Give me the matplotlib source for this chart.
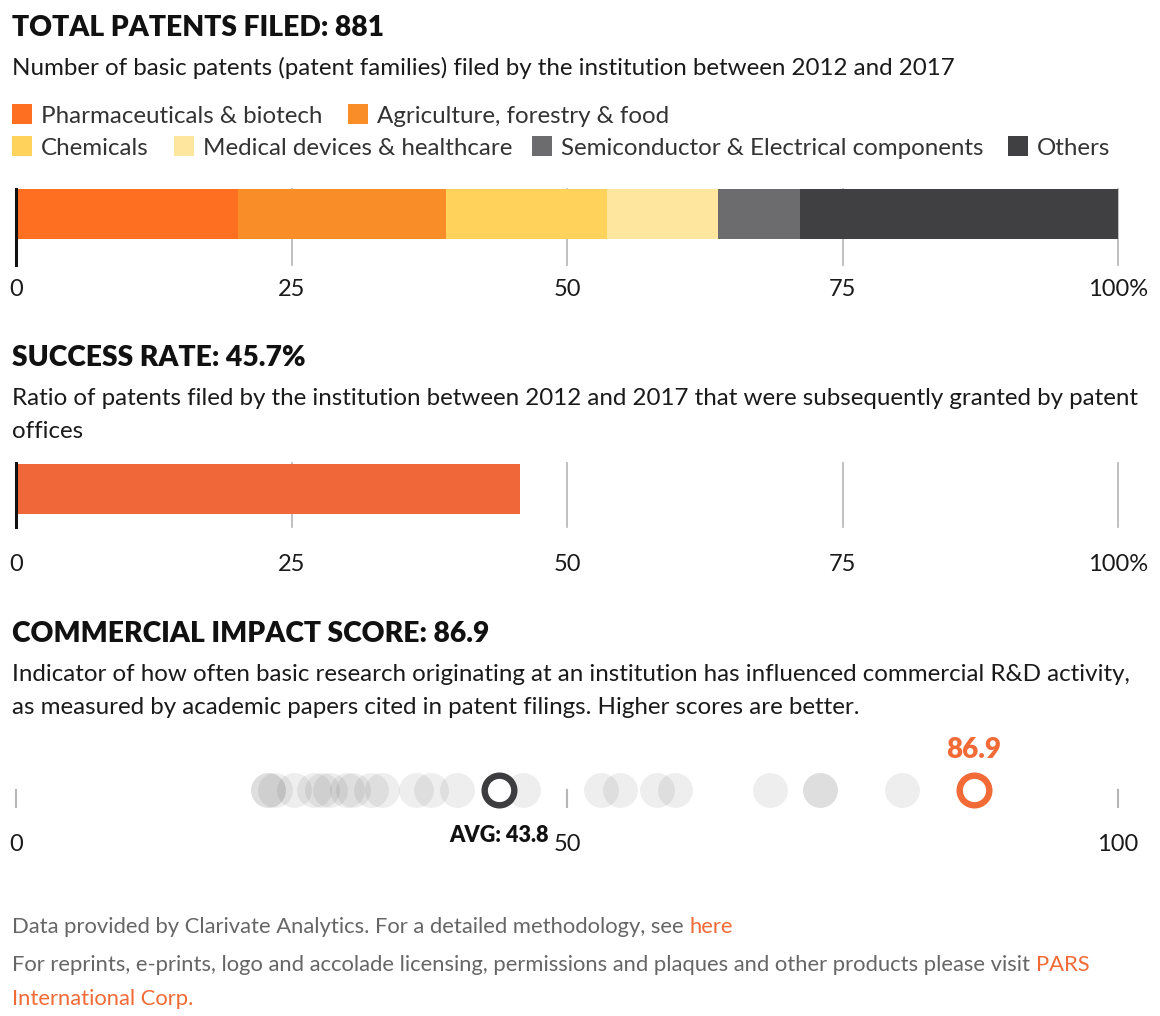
import matplotlib
matplotlib.use("Agg")
import matplotlib.pyplot as plt
from matplotlib.patches import Rectangle

# data
categories = ["Pharmaceuticals & biotech", "Agriculture, forestry & food", "Chemicals",
              "Medical devices & healthcare", "Semiconductor & Electrical components", "Others"]
shares = [20.1, 18.9, 14.6, 10.1, 7.4, 28.9]
cat_colors = ["#fe6f22", "#f98e28", "#ffd25c", "#fee69f", "#6c6c6f", "#404042"]
total_patents = 881
success_rate = 45.7
peer_scores = [22.9, 22.9, 23.5, 25.2, 27.0, 27.8, 28.5, 30.0, 30.6, 32.2, 33.2, 36.3, 37.7,
               40.0, 46.0, 53.1, 54.8, 58.2, 59.8, 68.4, 73.0, 73.0, 80.4]
avg_score = 43.8
inst_score = 86.9
pct_ticks = [0, 25, 50, 75, 100]
pct_labels = ["0", "25", "50", "75", "100%"]
score_ticks = [0, 50, 100]

W, H = 1160, 1016
FONT = "Lato"
ORANGE = "#f26a35"
DARK = "#1a1a1a"
GRID = "#b5b5b5"
BODY = 17.4
FOOT = 15.8

plt.rcParams["font.family"] = [FONT, "DejaVu Sans"]
fig = plt.figure(figsize=(W / 100, H / 100), dpi=100)

# background axes in pixel coords for all text
bg = fig.add_axes([0, 0, 1, 1])
bg.set_xlim(0, W)
bg.set_ylim(H, 0)
bg.axis("off")

X0, X1 = 16, 1118  # pixel span of 0..100


def px_axes(top, bottom):
    ax = fig.add_axes([X0 / W, 1 - bottom / H, (X1 - X0) / W, (bottom - top) / H])
    ax.set_xlim(0, 100)
    ax.set_ylim(bottom, top)
    ax.axis("off")
    return ax


def title(y, s):
    bg.text(12, y, s, fontsize=20.3, fontweight="heavy", color="#111111", va="baseline")


def body(x, y, s, color=DARK, size=BODY):
    return bg.text(x, y, s, fontsize=size, color=color, va="baseline")


# ---- section 1: total patents ----
title(36, f"TOTAL PATENTS FILED: {total_patents}")
body(12, 75, "Number of basic patents (patent families) filed by the institution between 2012 and 2017")

legend_pos = [(12, 123), (348, 123), (12, 155), (174, 155), (532, 155), (1008, 155)]
for (lx, ly), name, c in zip(legend_pos, categories, cat_colors):
    bg.add_patch(Rectangle((lx, ly - 19), 20, 20, color=c, lw=0))
    body(lx + 29, ly, name, color="#333333")

ax1 = px_axes(189, 265)
for t in pct_ticks:
    ax1.plot([t, t], [189, 265], color="#111111" if t == 0 else GRID,
             lw=2.2 if t == 0 else 1.2, zorder=3 if t == 0 else 0, clip_on=False)
left = 0
for s, c in zip(shares, cat_colors):
    ax1.barh(214, s, left=left, height=50, color=c, lw=0, zorder=1)
    left += s
for t, lab in zip(pct_ticks, pct_labels):
    bg.text(X0 + (X1 - X0) * t / 100, 296, lab, fontsize=17, color=DARK,
            ha="center", va="baseline")

# ---- section 2: success rate ----
title(366, f"SUCCESS RATE: {success_rate}%")
body(12, 405, "Ratio of patents filed by the institution between 2012 and 2017 that were subsequently granted by patent")
body(12, 438, "offices")

ax2 = px_axes(463, 527)
for t in pct_ticks:
    ax2.plot([t, t], [463, 527], color="#111111" if t == 0 else GRID,
             lw=2.2 if t == 0 else 1.2, zorder=3 if t == 0 else 0, clip_on=False)
ax2.barh(489, success_rate, height=50, color="#f0683a", lw=0, zorder=1)
for t, lab in zip(pct_ticks, pct_labels):
    bg.text(X0 + (X1 - X0) * t / 100, 571, lab, fontsize=17, color=DARK,
            ha="center", va="baseline")

# ---- section 3: commercial impact ----
title(642, f"COMMERCIAL IMPACT SCORE: {inst_score}")
body(12, 681, "Indicator of how often basic research originating at an institution has influenced commercial R&D activity,")
body(12, 714, "as measured by academic papers cited in patent filings. Higher scores are better.")

ax3 = px_axes(760, 820)
for t in score_ticks:
    ax3.plot([t, t], [790, 807], color=GRID, lw=1.5, clip_on=False)
ax3.scatter(peer_scores, [790] * len(peer_scores), s=630, color="black", alpha=0.065,
            lw=0, clip_on=False)
ax3.scatter([avg_score], [790], s=455, facecolor="white", edgecolor="#3d3d3f", lw=4.6,
            clip_on=False, zorder=4)
ax3.scatter([inst_score], [790], s=455, facecolor="white", edgecolor=ORANGE, lw=4.6,
            clip_on=False, zorder=4)
x_avg = X0 + (X1 - X0) * avg_score / 100
x_inst = X0 + (X1 - X0) * inst_score / 100
bg.text(x_avg, 842, f"AVG: {avg_score}", fontsize=15.6, fontweight="heavy", color="#111111",
        ha="center", va="baseline")
bg.text(x_inst, 758, f"{inst_score}", fontsize=20, fontweight="heavy", color=ORANGE,
        ha="center", va="baseline")
for t in score_ticks:
    bg.text(X0 + (X1 - X0) * t / 100, 851, str(t), fontsize=17, color=DARK,
            ha="center", va="baseline")

# ---- footer ----
fig.canvas.draw()
r = fig.canvas.get_renderer()
inv = bg.transData.inverted()


def follow(t, y, s, color):
    bb = t.get_window_extent(renderer=r)
    xe = inv.transform((bb.x1, bb.y0))[0]
    return bg.text(xe, y, s, fontsize=FOOT, color=color, va="baseline")


f1 = body(12, 933, "Data provided by Clarivate Analytics. For a detailed methodology, see ",
          color="#666666", size=FOOT)
follow(f1, 933, "here", ORANGE)
f2 = body(12, 971, "For reprints, e-prints, logo and accolade licensing, permissions and plaques and other products please visit ",
          color="#666666", size=FOOT)
follow(f2, 971, "PARS", ORANGE)
body(12, 1005, "International Corp.", color=ORANGE, size=FOOT)

fig.savefig("out.png", dpi=100)
